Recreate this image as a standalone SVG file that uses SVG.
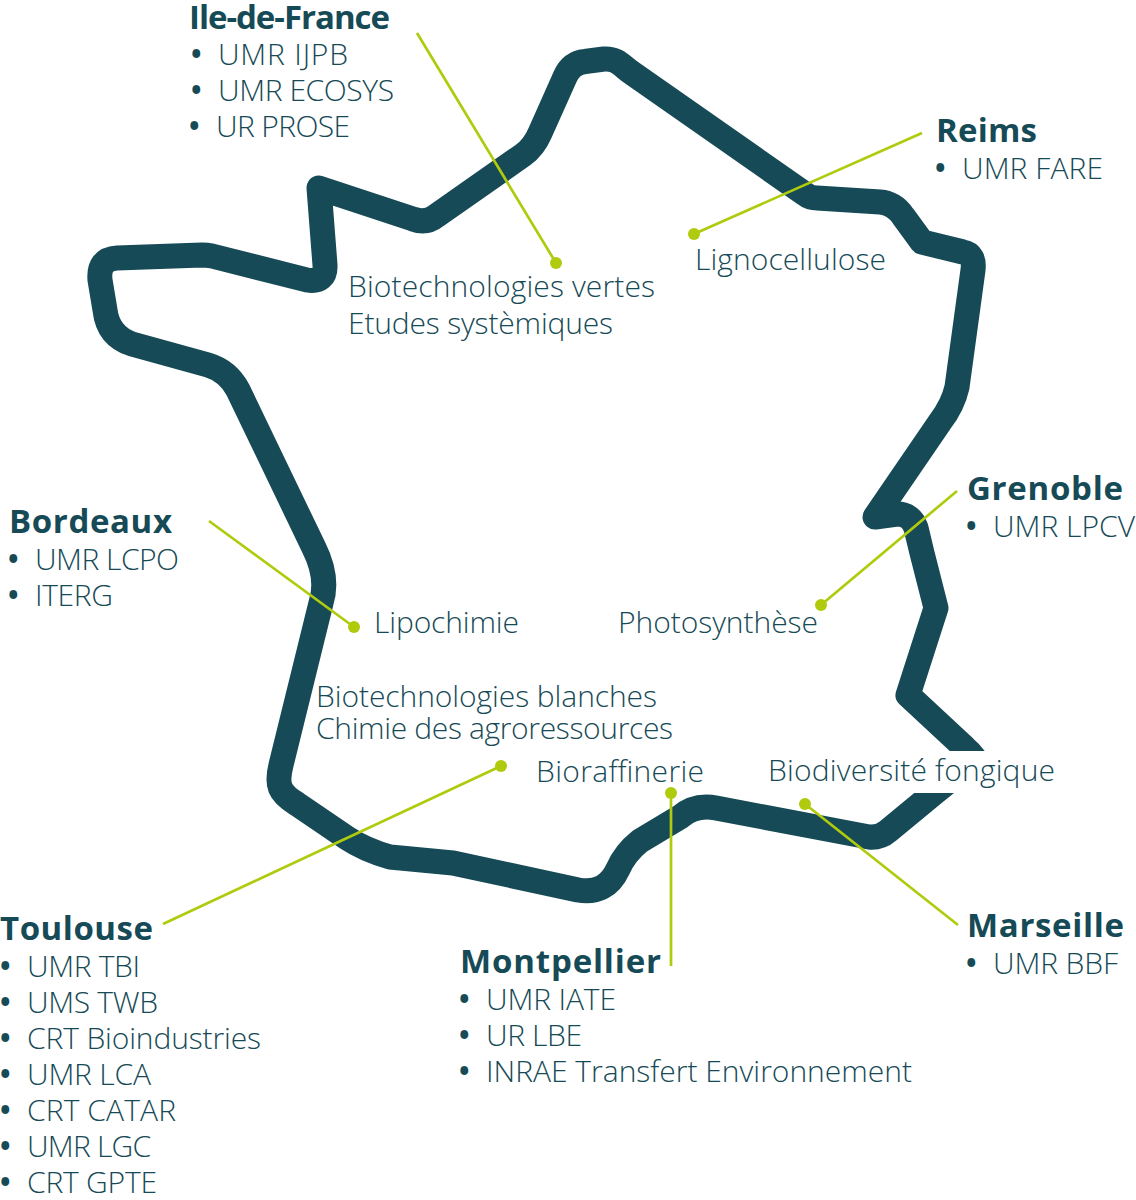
<svg xmlns="http://www.w3.org/2000/svg" width="1136" height="1200" viewBox="0 0 1136 1200">
<style>
text{font-family:"Open Sans","Noto Sans",sans-serif;fill:#164a56;font-size:30px;font-weight:300}
.h{font-weight:700;font-size:33px}
.b{font-weight:700;font-size:28px}
.map{fill:none;stroke:#164a56;stroke-width:25;stroke-linejoin:round;stroke-linecap:butt}
.c{fill:none;stroke:#b0cb0d;stroke-width:2.7}
.d{fill:#b0cb0d}
</style>
<defs><clipPath id="gap"><rect x="0" y="0" width="1136" height="751"/><rect x="0" y="793" width="1136" height="407"/><rect x="0" y="751" width="800" height="42"/></clipPath></defs>
<path id="map" class="map" clip-path="url(#gap)" d="M980 770Q977 758 965 748L908 695L936 608L922 553L916 528Q911 514 897 514L875 517L940 422Q953 405 957 387L973 270Q975 254 963 252L922 242L903 216Q894 203 880 202L817 198Q810 198 805 194L632 73C622 66 617 58 604 59L585 61.5Q571 63 565 77L540 133Q534 147 523 155L436 216Q426 224 413 219L319 188L325 265Q326 283 307 280L212 256Q207 255 202 255L117 258Q98 259 100 280L105 310Q108 336 132 344L208 365Q228 371 238 390L314 548Q329 578 321 603L281 765C276 785 279 793 297 804L347 838Q365 850 390 857L453 863L578 890Q606 895 618 869Q625 853 640 841L680 817Q695 804 716 808L869 837Q880 838 888 831L934 793L980 756"/>
<g id="connectors">
<path class="c" d="M417 33L556 263M922 133L694 234M209 521L354 627M957 491L821 605M163 924L501 766M671 966V793M958 925L805 804"/>
<circle class="d" cx="556" cy="263" r="6"/><circle class="d" cx="694" cy="234" r="6"/><circle class="d" cx="354" cy="627" r="6"/><circle class="d" cx="821" cy="605" r="6"/><circle class="d" cx="501" cy="766" r="6"/><circle class="d" cx="671" cy="793" r="6"/><circle class="d" cx="805" cy="804" r="6"/>
</g>
<g id="idf"><text class="h" x="189" y="29" textLength="201">Ile-de-France</text><text class="b" x="191" y="64">•</text><text x="218" y="65" textLength="130">UMR IJPB</text><text class="b" x="191" y="100">•</text><text x="218" y="101" textLength="176">UMR ECOSYS</text><text class="b" x="189" y="136">•</text><text x="216" y="137" textLength="134">UR PROSE</text></g>
<g id="reims"><text class="h" x="936" y="142" textLength="101">Reims</text><text class="b" x="935" y="178">•</text><text x="962" y="179" textLength="141">UMR FARE</text></g>
<g id="grenoble"><text class="h" x="967" y="500" textLength="156">Grenoble</text><text class="b" x="966" y="536">•</text><text x="993" y="537" textLength="142">UMR LPCV</text></g>
<g id="bordeaux"><text class="h" x="9" y="533" textLength="163">Bordeaux</text><text class="b" x="8" y="569">•</text><text x="35" y="570" textLength="144">UMR LCPO</text><text class="b" x="8" y="605">•</text><text x="35" y="606" textLength="78">ITERG</text></g>
<g id="marseille"><text class="h" x="967" y="937" textLength="157">Marseille</text><text class="b" x="966" y="973">•</text><text x="993" y="974" textLength="125">UMR BBF</text></g>
<g id="montpellier"><text class="h" x="460" y="973" textLength="201">Montpellier</text><text class="b" x="459" y="1009">•</text><text x="486" y="1010" textLength="130">UMR IATE</text><text class="b" x="459" y="1045">•</text><text x="486" y="1046" textLength="96">UR LBE</text><text class="b" x="459" y="1081">•</text><text x="486" y="1082" textLength="426">INRAE Transfert Environnement</text></g>
<g id="toulouse"><text class="h" x="0" y="940" textLength="153">Toulouse</text><text class="b" x="0" y="976">•</text><text x="27" y="977" textLength="113">UMR TBI</text><text class="b" x="0" y="1012">•</text><text x="27" y="1013" textLength="131">UMS TWB</text><text class="b" x="0" y="1048">•</text><text x="27" y="1049" textLength="234">CRT Bioindustries</text><text class="b" x="0" y="1084">•</text><text x="27" y="1085" textLength="124">UMR LCA</text><text class="b" x="0" y="1120">•</text><text x="27" y="1121" textLength="149">CRT CATAR</text><text class="b" x="0" y="1156">•</text><text x="27" y="1157" textLength="124">UMR LGC</text><text class="b" x="0" y="1192">•</text><text x="27" y="1193" textLength="130">CRT GPTE</text></g>
<g id="labels"><text x="348" y="297" textLength="307">Biotechnologies vertes</text><text x="348" y="334" textLength="265">Etudes systèmiques</text><text x="695" y="270" textLength="191">Lignocellulose</text><text x="374" y="633" textLength="145">Lipochimie</text><text x="618" y="633" textLength="200">Photosynthèse</text><text x="316" y="707" textLength="341">Biotechnologies blanches</text><text x="316" y="739" textLength="357">Chimie des agroressources</text><text x="536" y="782" textLength="168">Bioraffinerie</text><text x="768" y="781" textLength="287">Biodiversité fongique</text></g>
</svg>
